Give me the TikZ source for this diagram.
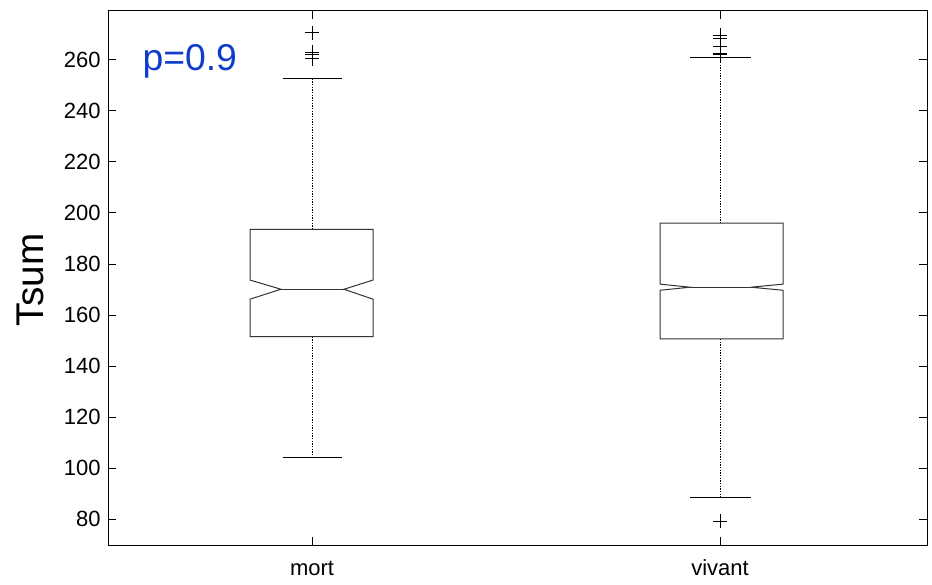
\documentclass[tikz,border=0pt]{standalone}
\usepackage{fontspec}
\setmainfont{Liberation Sans}
\definecolor{pblue}{RGB}{16,60,205}

\begin{document}
\begin{tikzpicture}[x=0.75pt, y=-0.75pt, line width=0.75pt,
        ticklabel/.style={font=\fontsize{16.5}{18}\selectfont, inner sep=0pt},
        whisker/.style={dash pattern=on 1pt off 1pt},
        boxline/.style={draw=black!80}]

        \useasboundingbox (0,0) rectangle (932,585);

        % axes frame
        \draw (108,11) rectangle (927,545);

        % values on the y axis: y=1 is one unit of Tsum
        \begin{scope}[y=1.9125pt, yshift=-542.25pt]

            % ticks
            \foreach \v in {80,100,...,260} {
                \draw (108,\v) -- (116,\v);
                \draw (919,\v) -- (927,\v);
                \node [ticklabel, anchor=east] (tick\v) at (101,\v) {\v};
            }

            % mort
            \draw [boxline]
                (250,193.6) -- (373,193.6) -- (373,173.7) -- (344,170.1)
                -- (373,166.2) -- (373,151.5) -- (250,151.5) -- (250,166.2)
                -- (281,170.1) -- (250,173.7) -- cycle;
            \draw [boxline] (281,170.1) -- (344,170.1);
            \draw [whisker] (312,193.6) -- (312,252.9);
            \draw [whisker] (312,151.5) -- (312,104);
            \draw (283,252.9) -- (342,252.9);
            \draw (283,104) -- (342,104);
            \foreach \v in {270.6,263,262.2,260.4}
                \draw (305,\v) -- (319,\v) (312,\v-2.8) -- (312,\v+2.8);

            % vivant
            \draw [boxline]
                (660,196) -- (783,196) -- (783,172.1) -- (751,170.9)
                -- (783,169.7) -- (783,150.6) -- (660,150.6) -- (660,169.7)
                -- (690,170.9) -- (660,172.1) -- cycle;
            \draw [boxline] (690,170.9) -- (751,170.9);
            \draw [whisker] (720,196) -- (720,261);
            \draw [whisker] (720,150.6) -- (720,88.4);
            \draw (690,261) -- (751,261);
            \draw (690,88.4) -- (751,88.4);
            \foreach \v in {269.8,268.5,265.2,262.6,262,79.2}
                \draw (713,\v) -- (727,\v) (720,\v-2.8) -- (720,\v+2.8);

        \end{scope}

        % x ticks
        \draw (312,545) -- (312,537) (312,11) -- (312,19);
        \draw (720,545) -- (720,537) (720,11) -- (720,19);

        \draw
            (312,575) node [ticklabel, anchor=base] (mort) {mort}
            (720,575) node [ticklabel, anchor=base] (vivant) {vivant}
            (30,280)  node [rotate=90, font=\fontsize{29}{32}\selectfont] (ylabel) {Tsum}
            (142,71)  node [anchor=base west, inner sep=0pt, text=pblue,
                            font=\fontsize{28}{30}\selectfont] (pval) {p=0.9}
        ;

    \end{tikzpicture}
\end{document}
